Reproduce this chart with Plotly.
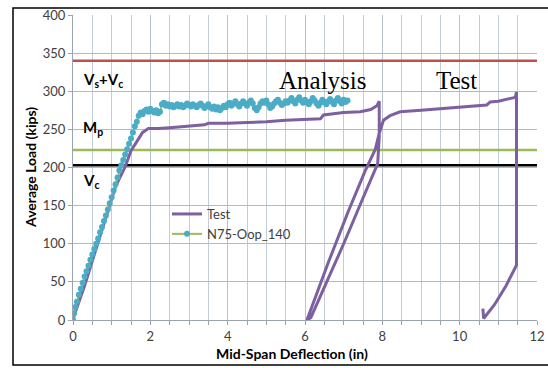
import plotly.graph_objects as go

# ---- data ----
test_x = [0, 0.05, 0.3, 0.6, 0.87, 1.1, 1.35, 1.5, 1.65, 1.8, 1.95, 2.2, 2.5, 3.0, 3.4, 3.5,
          4.0, 4.5, 5.0, 5.5, 6.0, 6.4, 6.48, 7.0, 7.43, 7.7, 7.86, 7.92, 7.92, 7.88, 7.5,
          7.0, 6.15, 6.05, 6.6, 7.1, 7.55, 7.82, 7.92, 8.03, 8.2, 8.46, 9.0,
          9.5, 10.0, 10.7, 10.79, 11.0, 11.44, 11.47, 11.47, 11.2, 10.9, 10.62, 10.6]
test_y = [0, 9, 45, 95, 140, 175, 201, 222, 234, 246, 251, 251, 252, 254, 256, 258,
          258, 259, 260, 262, 263, 264, 269, 272, 273, 276, 281, 287, 240, 205, 160,
          100, 3, 0, 75, 140, 195, 224, 245, 262, 268, 273, 275,
          277, 279, 282, 286, 287, 292, 299, 72, 45, 20, 2, 15]

ana_x = [0, 0.03, 0.06, 0.1, 0.15, 0.2, 0.25, 0.3, 0.35, 0.4, 0.45, 0.5, 0.55, 0.6, 0.65, 0.7,
         0.75, 0.8, 0.85, 0.9, 0.95, 1.0, 1.05, 1.1, 1.15, 1.2, 1.25, 1.3, 1.35, 1.4, 1.45, 1.5,
         1.55, 1.6, 1.65, 1.7, 1.75, 1.8, 1.85, 1.9, 1.95, 2.0, 2.05, 2.1, 2.15, 2.2, 2.25,
         2.3, 2.35, 2.4, 2.45, 2.5, 2.55, 2.6, 2.65, 2.7, 2.75, 2.8, 2.85, 2.9, 2.95, 3.0,
         3.05, 3.1, 3.15, 3.2, 3.25, 3.3, 3.35, 3.4, 3.45, 3.5, 3.55, 3.6, 3.65, 3.7, 3.75,
         3.8, 3.85, 3.9, 3.95, 4.0, 4.05, 4.1, 4.15, 4.2, 4.25, 4.3, 4.35, 4.4, 4.45, 4.5,
         4.55, 4.6, 4.65, 4.7, 4.75, 4.8, 4.85, 4.9, 4.95, 5.0, 5.05, 5.1, 5.15, 5.2, 5.25,
         5.3, 5.35, 5.4, 5.45, 5.5, 5.55, 5.6, 5.65, 5.7, 5.75, 5.8, 5.85, 5.9, 5.95, 6.0,
         6.05, 6.1, 6.15, 6.2, 6.25, 6.3, 6.35, 6.4, 6.45, 6.5, 6.55, 6.6, 6.65, 6.7, 6.75,
         6.8, 6.85, 6.9, 6.95, 7.0, 7.05, 7.1]
ana_y = [0, 9, 17, 24, 33, 41, 49, 57, 64, 71, 79, 86, 93, 100, 107, 115,
         122, 130, 137, 145, 153, 161, 170, 178, 187, 196, 203, 210, 217, 224, 231, 238,
         246, 254, 260, 268, 272, 270, 274, 276, 273, 277, 274, 272, 275, 271, 273,
         283, 285, 281, 283, 280, 282, 279, 281, 283, 280, 282, 279, 281, 284, 282,
         280, 283, 281, 279, 282, 284, 281, 278, 280, 283, 279, 277, 280, 276, 279,
         275, 278, 281, 279, 283, 285, 281, 284, 287, 283, 280, 284, 287, 284, 281,
         285, 288, 284, 278, 275, 279, 284, 287, 285, 288, 283, 278, 280, 284, 287,
         289, 285, 282, 284, 287, 285, 288, 291, 287, 284, 289, 292, 288, 285, 289,
         286, 283, 287, 291, 288, 284, 281, 285, 289, 286, 283, 287, 290, 286, 283,
         288, 291, 287, 284, 289, 286, 288]

ref_names = ["Vs+Vc", "Mp", "Vc"]
ref_values = [340, 223, 203]
ref_colors = ["#c0504d", "#9bbb59", "#000000"]

x_range = [0, 12]
y_range = [0, 400]

fig = go.Figure()

for name, v, c in zip(ref_names, ref_values, ref_colors):
    fig.add_trace(go.Scatter(x=x_range, y=[v, v], mode="lines",
                             line=dict(color=c, width=2.5), showlegend=False,
                             hoverinfo="skip", name=name))

fig.add_trace(go.Scatter(x=test_x, y=test_y, mode="lines", name="Test",
                         line=dict(color="#7d60a0", width=3)))
fig.add_trace(go.Scatter(x=ana_x, y=ana_y, mode="lines+markers", name="N75-Oop_140",
                         line=dict(color="#9bbb59", width=2),
                         marker=dict(color="#4bacc6", size=6)))

tickfont = dict(family="Lato", size=13, color="#404040")
fig.update_xaxes(range=x_range, dtick=2, tick0=0, showgrid=True, gridcolor="#b9c3cf",
                 gridwidth=1, zeroline=False, showline=True, linecolor="#9aa4ae",
                 ticks="outside", ticklen=4, tickcolor="#9aa4ae", tickfont=tickfont,
                 minor=dict(dtick=0.5, showgrid=True, gridcolor="#c4ccd4", ticks="outside",
                            ticklen=4, tickcolor="#9aa4ae"),
                 automargin=False)
fig.update_yaxes(range=y_range, dtick=50, tick0=0, showgrid=True, gridcolor="#a9bdd0",
                 gridwidth=1, zeroline=False, showline=True, linecolor="#9aa4ae",
                 ticks="outside", ticklen=4, tickcolor="#9aa4ae", tickfont=tickfont,
                 automargin=False)

L, R, T, B = 73, 11, 15, 48
W, H = 548, 368
pw, ph = W - L - R, H - T - B

def px2paper_x(p):
    return (p - L) / pw

def px2paper_y(p):
    return (H - B - p) / ph

annots = [
    dict(text="<b>V<sub>s</sub>+V<sub>c</sub></b>", x=0.2, y=315, xanchor="left", yanchor="middle",
         font=dict(family="Lato", size=15, color="#000000")),
    dict(text="<b>M<sub>p</sub></b>", x=0.2, y=252, xanchor="left", yanchor="middle",
         font=dict(family="Lato", size=15, color="#000000")),
    dict(text="<b>V<sub>c</sub></b>", x=0.2, y=182, xanchor="left", yanchor="middle",
         font=dict(family="Lato", size=15, color="#000000")),
    dict(text="Analysis", x=6.47, y=314, xanchor="center", yanchor="middle",
         font=dict(family="Liberation Serif", size=25, color="#000000")),
    dict(text="Test", x=9.91, y=314, xanchor="center", yanchor="middle",
         font=dict(family="Liberation Serif", size=25, color="#000000")),
]
for a in annots:
    fig.add_annotation(xref="x", yref="y", showarrow=False, **a)

fig.add_annotation(text="<b>Mid-Span Deflection (in)</b>", xref="paper", yref="paper",
                   x=px2paper_x(292), y=px2paper_y(353), xanchor="center", yanchor="middle",
                   showarrow=False, font=dict(family="Lato", size=14, color="#000000"))
fig.add_annotation(text="<b>Average Load (kips)</b>", xref="paper", yref="paper",
                   x=px2paper_x(30), y=px2paper_y(168), xanchor="center", yanchor="middle",
                   textangle=-90, showarrow=False,
                   font=dict(family="Lato", size=14, color="#000000"))

# outer frame
frame_l, frame_t, frame_b, frame_r = 13, 8, 365, 560
fig.add_shape(type="rect", xref="paper", yref="paper",
              x0=px2paper_x(frame_l), x1=px2paper_x(frame_r),
              y0=px2paper_y(frame_b), y1=px2paper_y(frame_t),
              line=dict(color="#000000", width=1.5), fillcolor="rgba(0,0,0,0)")

fig.update_layout(
    width=W, height=H, autosize=False,
    margin=dict(l=L, r=R, t=T, b=B, autoexpand=False),
    paper_bgcolor="white", plot_bgcolor="white",
    font=dict(family="Lato", size=13, color="#404040"),
    legend=dict(x=px2paper_x(167), y=px2paper_y(199), xanchor="left", yanchor="top",
                bgcolor="rgba(255,255,255,0)", font=dict(family="Lato", size=13, color="#404040"),
                tracegroupgap=0, itemwidth=30),
)

fig.write_html("out.html")
